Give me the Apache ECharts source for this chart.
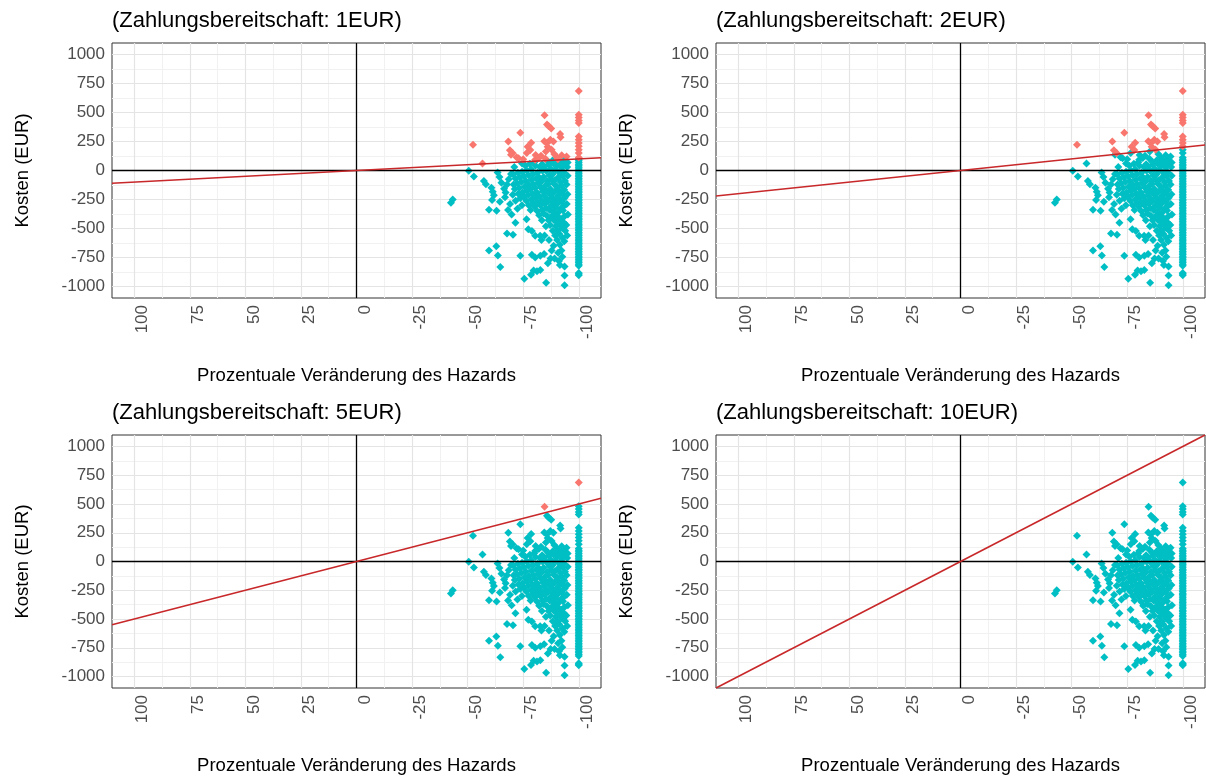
<!DOCTYPE html>
<html>
<head>
<meta charset="utf-8">
<script src="https://cdn.jsdelivr.net/npm/echarts@6/dist/echarts.min.js"></script>
<style>
  html, body { margin: 0; padding: 0; background: #ffffff; }
  #chart { width: 1206px; height: 776px; }
</style>
</head>
<body>
<div id="chart"></div>
<script>
// Willingness-to-pay levels, one panel each
const wtpLevels = [1, 2, 5, 10];

// Axis breaks
const xTicks = [100, 75, 50, 25, 0, -25, -50, -75, -100];
const xMinorTicks = [87.5, 62.5, 37.5, 12.5, -12.5, -37.5, -62.5, -87.5];
const yTicks = [1000, 750, 500, 250, 0, -250, -500, -750, -1000];
const yMinorTicks = [875, 625, 375, 125, -125, -375, -625, -875];

// Costs (EUR) of respondents whose hazard drops by 100 %
const fullReductionCosts = [
  686, 480, 457, 431, 409, 294, 266, 237, 209, 180, 151, 112,
  97, 84, 70, 55, 41, 28, 14, 1, -13, -27, -40, -54, -69, -81, -96,
  -110, -123, -137, -150, -166, -178, -192, -207, -219, -233, -248,
  -260, -275, -288, -301, -316, -329, -343, -357, -370, -384, -398,
  -411, -425, -438, -452, -467, -479, -493, -507, -520, -534, -548,
  -561, -575, -590, -602, -616, -630, -643, -657, -671, -684, -698,
  -712, -725, -739, -753, -766, -780, -794, -808, -822, -884, -893, -903
];

// [percentage change of the hazard, costs (EUR)] for all other respondents
const partialReduction = [
  // sparse left part
  [-42.5, -278], [-43.3, -250], [-52.4, 223], [-56.7, 60], [-50.5, -3], [-52.8, -52],
  [-57.3, -90], [-58.2, -118], [-60.7, -148], [-61.3, -184], [-61.8, -214], [-61.0, -254],
  [-59.6, -338], [-63.0, -348], [-59.6, -690], [-62.9, -653], [-63.6, -733], [-64.7, -833],
  // upper points
  [-68.3, 250], [-73.7, 325], [-77.0, 205], [-78.6, 240], [-78.2, 177], [-80.6, 134],
  [-80.4, 92], [-76.6, 150], [-75.0, 96], [-72.9, 106], [-69.0, 175], [-70.2, 150],
  [-69.5, 135], [-72.0, 115], [-84.6, 477], [-85.7, 397], [-86.4, 383], [-87.6, 363],
  [-91.6, 314], [-91.8, 286], [-84.5, 252], [-85.7, 238], [-87.2, 265], [-88.6, 250],
  [-86.0, 205], [-87.8, 178], [-85.2, 165], [-94.5, 120], [-92.3, 132], [-90.0, 117],
  [-89.0, 143], [-83.0, 128], [-82.0, 108], [-85.0, 102], [-90.6, 98], [-93.2, 92],
  [-88.2, 86], [-86.3, 76], [-80.0, 72], [-78.0, 58], [-76.0, 42], [-74.5, 60],
  [-71.0, 30], [-83.5, 55], [-89.5, 60], [-95.0, 70], [-92.5, 50],
  // main cluster
  [-94.8, 30], [-95.0, -45], [-94.5, -120], [-94.9, -205], [-94.6, -290], [-95.1, -380],
  [-94.4, -470], [-94.8, -560],
  [-93.5, 60], [-93.2, -15], [-93.8, -90], [-93.4, -165], [-93.7, -235], [-93.1, -310],
  [-93.6, -395], [-93.3, -450], [-93.9, -520], [-93.5, -610], [-93.6, -828], [-93.6, -905],
  [-93.6, -990],
  [-92.4, 25], [-92.8, -50], [-92.2, -130], [-92.6, -200], [-92.3, -270], [-92.9, -345],
  [-92.1, -420], [-92.5, -495], [-92.7, -580], [-92.2, -690], [-92.6, -745],
  [-91.6, 80], [-91.3, -20], [-91.8, -100], [-91.2, -175], [-91.5, -250], [-91.9, -330],
  [-91.3, -410], [-91.7, -470], [-91.2, -545], [-91.5, -640], [-91.1, -780], [-91.5, -815],
  [-90.4, 45], [-90.7, -60], [-90.2, -140], [-90.8, -215], [-90.3, -290], [-90.6, -365],
  [-90.1, -440], [-90.5, -520], [-90.3, -600], [-90.7, -710],
  [-89.5, 10], [-89.2, -85], [-89.8, -170], [-89.4, -250], [-89.6, -320], [-89.1, -395],
  [-89.7, -480], [-89.4, -560], [-89.1, -760],
  [-88.6, 60], [-88.3, -30], [-88.8, -115], [-88.2, -200], [-88.7, -275], [-88.4, -355],
  [-88.9, -430], [-88.3, -520], [-88.7, -650],
  [-87.3, 15], [-87.7, -75], [-87.2, -160], [-87.8, -230], [-87.4, -310], [-87.6, -400],
  [-87.1, -470], [-87.8, -690], [-87.3, -760],
  [-86.5, 50], [-86.8, -40], [-86.2, -115], [-86.6, -195], [-86.3, -265], [-86.9, -340],
  [-86.4, -430], [-86.6, -600], [-86.1, -800],
  [-85.4, -5], [-85.8, -90], [-85.2, -170], [-85.6, -245], [-85.3, -325], [-85.7, -390],
  [-85.2, -480], [-85.3, -968],
  [-84.5, 35], [-84.2, -55], [-84.8, -135], [-84.4, -215], [-84.7, -290], [-84.1, -370],
  [-84.6, -560], [-84.4, -720],
  [-83.6, 0], [-83.3, -95], [-83.8, -180], [-83.2, -260], [-83.6, -340], [-83.4, -430],
  [-83.2, -600], [-82.7, -736], [-82.7, -858],
  [-82.5, 30], [-82.2, -60], [-82.8, -145], [-82.4, -225], [-82.7, -300], [-82.2, -385],
  [-82.6, -562],
  [-81.4, -20], [-81.7, -110], [-81.2, -190], [-81.6, -275], [-81.3, -350], [-81.2, -870],
  [-80.5, 40], [-80.8, -70], [-80.3, -150], [-80.6, -235], [-80.2, -310], [-80.4, -564],
  [-80.4, -750],
  [-79.4, -30], [-79.7, -120], [-79.2, -200], [-79.6, -280], [-79.7, -863], [-78.9, -727],
  [-78.9, -521],
  [-78.5, 10], [-78.8, -80], [-78.2, -160], [-78.6, -250], [-78.3, -340], [-78.5, -899],
  [-77.4, -40], [-77.7, -125], [-77.2, -210], [-77.5, -300], [-77.3, -507],
  [-76.5, 0], [-76.2, -90], [-76.8, -170], [-76.4, -260], [-76.5, -420],
  [-75.4, -50], [-75.7, -140], [-75.2, -225], [-75.5, -934],
  [-74.5, -10], [-74.2, -100], [-74.7, -190], [-74.4, -300],
  [-73.5, -60], [-73.2, -150], [-73.7, -240], [-73.7, -736],
  [-72.6, -20], [-72.3, -110], [-72.8, -200], [-72.4, -330],
  [-71.5, -70], [-71.2, -160], [-71.6, -260], [-71.5, -450],
  [-70.4, -30], [-70.7, -120], [-70.3, -210], [-70.4, -554],
  [-64.3, -57], [-65.2, -106], [-66.4, -157], [-63.5, -18], [-67.7, -120], [-67.1, -190],
  [-68.5, -75], [-69.5, -30], [-66.8, -230], [-69.1, -290], [-67.7, -543], [-68.2, -340],
  [-64.5, -270], [-69.8, -380]
];

const FONT = '"Liberation Sans", Arial, Helvetica, sans-serif';
const TEAL = '#00BFC4';
const SALMON = '#F8766D';
const SLOPE_RED = '#C8282A';
const MAJOR_GRID = '#E4E4E4';
const MINOR_GRID = '#F1F1F1';

// Panel placement (plot area, pixels)
const panelBoxes = [
  { left: 112, top: 43 },
  { left: 716, top: 43 },
  { left: 112, top: 435 },
  { left: 716, top: 435 }
];
const PANEL_W = 489;
const PANEL_H = 255;
const X_LIM = [-110, 110];
const Y_LIM = [-1100, 1100];

const points = fullReductionCosts.map(c => [-100, c]).concat(partialReduction);

const option = {
  animation: false,
  backgroundColor: '#ffffff',
  title: [],
  grid: [],
  xAxis: [],
  yAxis: [],
  series: []
};

wtpLevels.forEach((wtp, i) => {
  const box = panelBoxes[i];

  option.title.push({
    text: '(Zahlungsbereitschaft: ' + wtp + 'EUR)',
    left: box.left,
    top: box.top - 33,
    padding: 0,
    textStyle: { fontFamily: FONT, fontSize: 22, fontWeight: 'normal', color: '#000000' }
  });

  option.grid.push({
    left: box.left, top: box.top, width: PANEL_W, height: PANEL_H,
    show: true, borderColor: '#333333', borderWidth: 1, backgroundColor: 'transparent',
    z: 0
  });

  option.xAxis.push({
    type: 'value', gridIndex: i, min: X_LIM[0], max: X_LIM[1], inverse: true,
    splitLine: { show: false },
    axisLine: { show: false },
    axisTick: { show: true, length: 4, customValues: xTicks, lineStyle: { color: '#333333', width: 1 } },
    axisLabel: {
      customValues: xTicks, rotate: 90, margin: 7, verticalAlign: 'top',
      formatter: v => String(v),
      fontFamily: FONT, fontSize: 17, color: '#4D4D4D'
    },
    name: 'Prozentuale Veränderung des Hazards',
    nameLocation: 'middle', nameGap: 68,
    nameTextStyle: { fontFamily: FONT, fontSize: 18.5, color: '#000000' }
  });

  option.yAxis.push({
    type: 'value', gridIndex: i, min: Y_LIM[0], max: Y_LIM[1],
    splitLine: { show: false },
    axisLine: { show: false },
    axisTick: { show: true, length: 4, customValues: yTicks, lineStyle: { color: '#333333', width: 1 } },
    axisLabel: {
      customValues: yTicks, margin: 7,
      formatter: v => String(v),
      fontFamily: FONT, fontSize: 17, color: '#4D4D4D'
    },
    name: 'Kosten (EUR)',
    nameLocation: 'middle', nameGap: 80,
    nameTextStyle: { fontFamily: FONT, fontSize: 18.5, color: '#000000' }
  });

  // background grid (major and minor lines)
  const gridLines = []
    .concat(xMinorTicks.map(v => ({ xAxis: v, lineStyle: { color: MINOR_GRID, width: 1 } })))
    .concat(yMinorTicks.map(v => ({ yAxis: v, lineStyle: { color: MINOR_GRID, width: 1 } })))
    .concat(xTicks.map(v => ({ xAxis: v, lineStyle: { color: MAJOR_GRID, width: 1.2 } })))
    .concat(yTicks.map(v => ({ yAxis: v, lineStyle: { color: MAJOR_GRID, width: 1.2 } })));
  option.series.push({
    type: 'line', xAxisIndex: i, yAxisIndex: i, data: [], silent: true, z: 1,
    markLine: {
      silent: true, animation: false, z: 1, symbol: ['none', 'none'],
      label: { show: false }, emphasis: { disabled: true },
      lineStyle: { type: 'solid' },
      data: gridLines
    }
  });

  // respondents below / above the willingness-to-pay line
  const below = points.filter(p => p[1] <= -wtp * p[0]);
  const above = points.filter(p => p[1] > -wtp * p[0]);
  option.series.push({
    type: 'scatter', xAxisIndex: i, yAxisIndex: i, data: below, z: 2,
    symbol: 'diamond', symbolSize: 8, silent: true,
    itemStyle: { color: TEAL, opacity: 1 }
  });
  option.series.push({
    type: 'scatter', xAxisIndex: i, yAxisIndex: i, data: above, z: 2,
    symbol: 'diamond', symbolSize: 8, silent: true,
    itemStyle: { color: SALMON, opacity: 1 }
  });

  // reference axes through the origin
  option.series.push({
    type: 'line', xAxisIndex: i, yAxisIndex: i, data: [], silent: true, z: 4,
    markLine: {
      silent: true, animation: false, z: 4, symbol: ['none', 'none'],
      label: { show: false }, emphasis: { disabled: true },
      lineStyle: { type: 'solid', color: '#000000', width: 1.3 },
      data: [{ xAxis: 0 }, { yAxis: 0 }]
    }
  });

  // cost = willingness to pay x reduction
  option.series.push({
    type: 'line', xAxisIndex: i, yAxisIndex: i, z: 5, silent: true,
    showSymbol: false, clip: true,
    data: [[X_LIM[0], -wtp * X_LIM[0]], [X_LIM[1], -wtp * X_LIM[1]]],
    lineStyle: { color: SLOPE_RED, width: 1.6 }
  });
});

const chart = echarts.init(document.getElementById('chart'), null, { renderer: 'canvas' });
chart.setOption(option);
</script>
</body>
</html>
